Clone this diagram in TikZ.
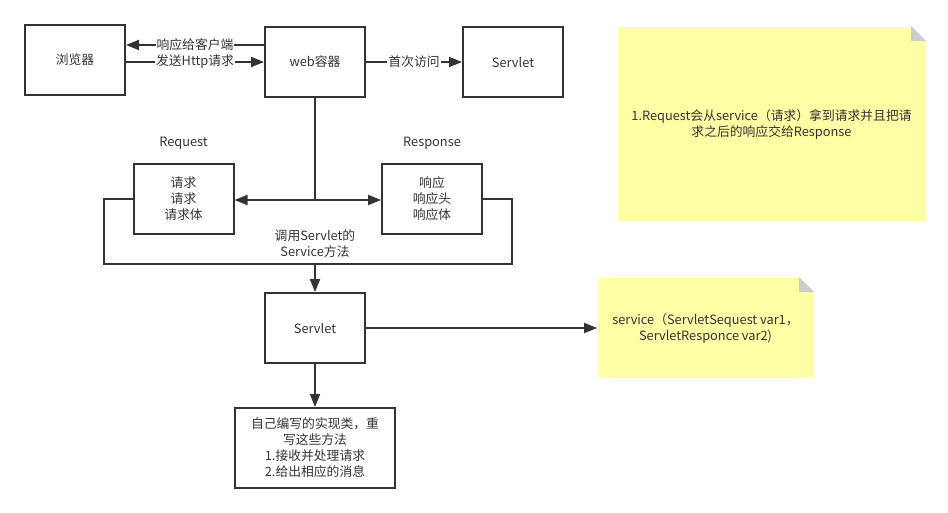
\documentclass[tikz,border=0pt]{standalone}
\usepackage{fontspec}
\setmainfont{Noto Sans CJK SC}
\usetikzlibrary{arrows.meta,positioning}
\definecolor{ink}{HTML}{333333}
\definecolor{notefill}{HTML}{FFFFA6}
\definecolor{foldgray}{HTML}{CCCCCC}
\begin{document}
\begin{tikzpicture}[x=1pt,y=-1pt,line width=2pt,color=ink,font=\fontsize{12.8}{16}\selectfont,>={Triangle[length=13pt,width=10pt]}]
	\tikzset{box/.style={draw=ink,minimum width=100pt,minimum height=70pt,inner sep=0pt,align=center},
		note/.style={fill=notefill,inner sep=0pt,align=center},
		lbl/.style={fill=white,inner sep=1pt}}
	\useasboundingbox (0,0) rectangle (948,513);
	% boxes
	\node[box] (browser) at (75,60) {浏览器};
	\node[box] (web) at (315,62) {web容器};
	\node[box] (servlet1) at (513,62) {Servlet};
	\node[box] (req) at (183.5,199) {请求\\请求\\请求体};
	\node[box] (resp) at (432,199) {响应\\响应头\\响应体};
	\node (reqlbl) at (183.5,143) {Request};
	\node (resplbl) at (432,143) {Response};
	\node[box] (servlet2) at (315,328) {Servlet};
	\node[box,minimum width=160pt,minimum height=80pt] (impl) at (315,448) {自己编写的实现类，重\\写这些方法\\1.接收并处理请求\\2.给出相应的消息};
	\node[align=center] (calltxt) at (315,244) {调用Servlet的\\Service方法};
	% notes
	\node[note,minimum width=307pt,minimum height=194pt] (note1) at (771.5,124) {1.Request会从service（请求）拿到请求并且把请\\求之后的响应交给Response};
	\node[note,minimum width=215pt,minimum height=100pt] (note2) at (705.5,328) {service（ServletSequest var1，\\ServletResponce var2)};
	\foreach \n in {note1,note2}{
		\fill[white] (\n.north east) -- ++(-15,0) -- ++(15,15) -- cycle;
		\fill[foldgray] (\n.north east) ++(-15,0) -- ++(0,15) -- ++(15,0) -- cycle;
	}
	% connectors
	\coordinate (respout) at ([yshift=17pt]web.west);
	\draw[->] (respout) -- (respout -| browser.east) node[midway,lbl]{响应给客户端};
	\draw[->] (browser.east |- web.west) -- (web.west) node[midway,lbl]{发送Http请求};
	\draw[->] (web) -- (servlet1) node[midway,lbl]{首次访问};
	\coordinate (split) at (315,200);
	\draw (web) -- (split);
	\draw[->] (split) -- (split -| req.east);
	\draw[->] (split) -- (split -| resp.west);
	\coordinate (callpt) at (315,264);
	\draw (req.west) -| (104,264) -- (512,264) |- (resp.east);
	\draw[->] (callpt) -- (servlet2);
	\draw[->] (servlet2) -- (impl);
	\draw[->] (servlet2) -- (note2);
\end{tikzpicture}
\end{document}
